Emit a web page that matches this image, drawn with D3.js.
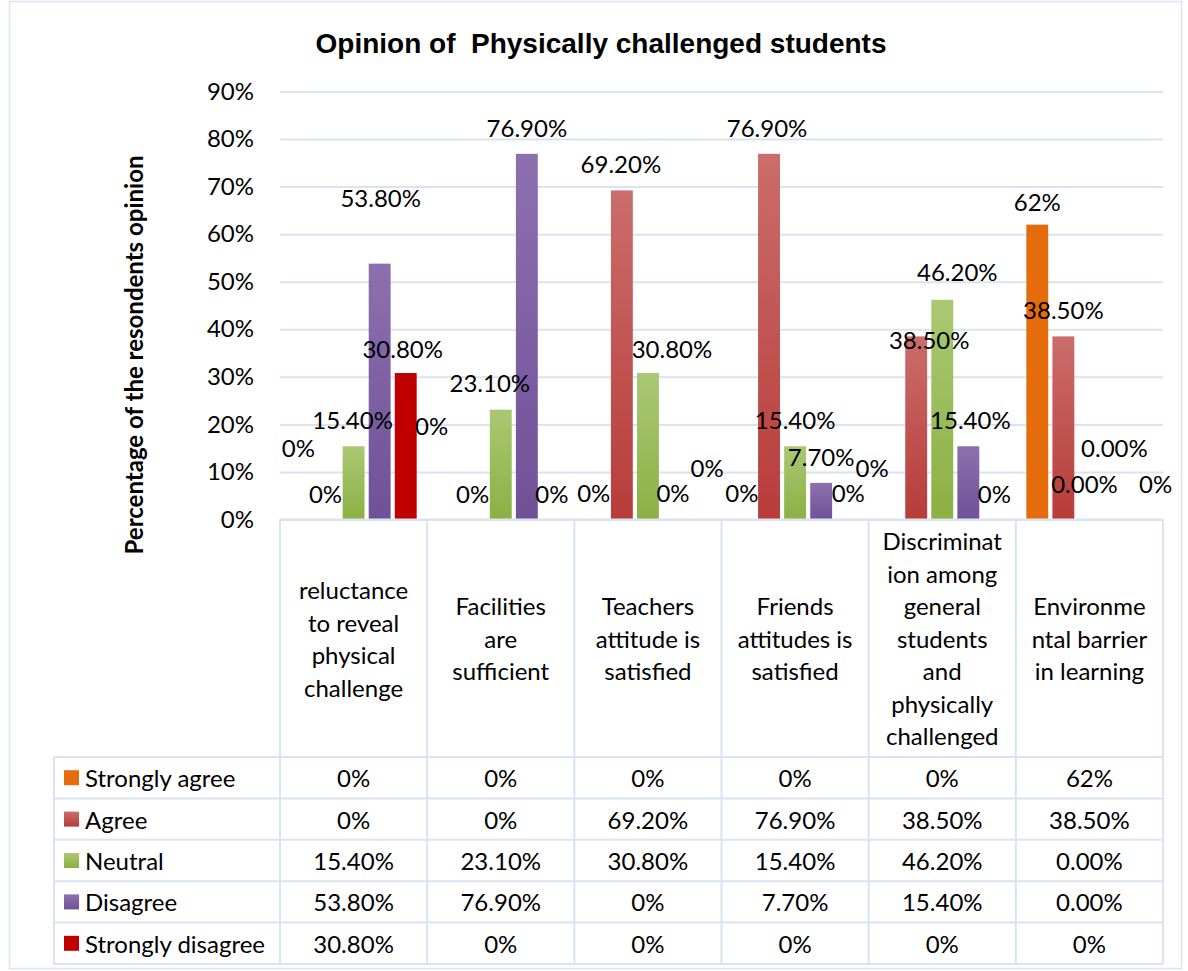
<!DOCTYPE html>
<meta charset="utf-8">
<style>
body {
    margin: 0;
    background: #fff;
}

text {
    font-family: Lato, "Open Sans", sans-serif;
    fill: #000;
}

.grid line {
    stroke: #d9e3f1;
    stroke-width: 2px;
}

.rule {
    stroke: #d9e3f1;
    stroke-width: 2px;
}
</style>
<body>
    <script src="https://cdn.jsdelivr.net/npm/d3@7"></script>
    <script>
        // categories, wrapped the way the chart wraps them
        const categoryLines = [
            ["reluctance", "to reveal", "physical", "challenge"],
            ["Facilities", "are", "sufficient"],
            ["Teachers", "attitude is", "satisfied"],
            ["Friends", "attitudes is", "satisfied"],
            ["Discriminat", "ion among", "general", "students", "and", "physically", "challenged"],
            ["Environme", "ntal barrier", "in learning"]
        ];

        const seriesNames = ["Strongly agree", "Agree", "Neutral", "Disagree", "Strongly disagree"];

        // values in percent
        const stronglyAgree = [0, 0, 0, 0, 0, 62];
        const agree = [0, 0, 69.2, 76.9, 38.5, 38.5];
        const neutral = [15.4, 23.1, 30.8, 15.4, 46.2, 0];
        const disagree = [53.8, 76.9, 0, 7.7, 15.4, 0];
        const stronglyDisagree = [30.8, 0, 0, 0, 0, 0];

        // labels as printed
        const stronglyAgreeText = ["0%", "0%", "0%", "0%", "0%", "62%"];
        const agreeText = ["0%", "0%", "69.20%", "76.90%", "38.50%", "38.50%"];
        const neutralText = ["15.40%", "23.10%", "30.80%", "15.40%", "46.20%", "0.00%"];
        const disagreeText = ["53.80%", "76.90%", "0%", "7.70%", "15.40%", "0.00%"];
        const stronglyDisagreeText = ["30.80%", "0%", "0%", "0%", "0%", "0%"];

        const yTicks = [0, 10, 20, 30, 40, 50, 60, 70, 80, 90];

        const seriesValues = [stronglyAgree, agree, neutral, disagree, stronglyDisagree];
        const seriesText = [stronglyAgreeText, agreeText, neutralText, disagreeText, stronglyDisagreeText];

        // hand-moved data labels: [dx from bar centre, dy from bar top]
        const labelNudge = [
            [[-3, -72], [-17, -94], [-2, -27], [-1, -27], [-18, -52], [0, -23]],
            [[-2, -26], [-2, -26], [-1, -27], [-2, -26], [13, 3], [0, -27]],
            [[-1, -27], [-11, -27], [24, -25], [0, -27], [15, -28], [25, -72]],
            [[1, -66], [0, -26], [-1, -27], [0, -26], [2, -27], [-31, -36]],
            [[-3, -25], [-1, -26], [7, -52], [1, -27], [0, -26], [14, -36]]
        ];

        const colours = [
            ["#e46c0a", "#e46c0a"],
            ["#ca6d6b", "#b83c3a"],
            ["#aac873", "#8cb043"],
            ["#8c70ae", "#6f5197"],
            ["#c00000", "#c00000"]
        ];

        const width = 1188;
        const height = 971;
        const fontSize = "24px";

        const svg = d3.select("body").append("svg")
            .attr("width", width)
            .attr("height", height);

        const defs = svg.append("defs");
        colours.forEach(function(c, i) {
            const g = defs.append("linearGradient")
                .attr("id", "grad" + i)
                .attr("x1", 0).attr("y1", 0)
                .attr("x2", 0).attr("y2", 1);
            g.append("stop").attr("offset", "0%").attr("stop-color", c[0]);
            g.append("stop").attr("offset", "100%").attr("stop-color", c[1]);
        });

        // chart area border
        svg.append("rect")
            .attr("x", 9.5).attr("y", 1.5)
            .attr("width", 1172).attr("height", 967)
            .attr("fill", "none")
            .attr("stroke", "#d9e3f1")
            .attr("stroke-width", 1.5);

        const catIdx = d3.range(categoryLines.length);

        const x0 = d3.scaleBand()
            .domain(catIdx)
            .range([280, 1163]);

        const x1 = d3.scaleBand()
            .domain(d3.range(seriesNames.length))
            .range([10.5, 136.7])
            .paddingInner(0.16);

        const y = d3.scaleLinear()
            .domain([0, 90])
            .range([519.5, 91.5]);

        const rowY = d3.scaleBand()
            .domain(d3.range(seriesNames.length))
            .range([757, 964]);

        // title
        svg.append("text")
            .attr("x", 601)
            .attr("y", 53)
            .attr("text-anchor", "middle")
            .style("font-family", "'Liberation Sans', Arial, sans-serif")
            .style("font-weight", "bold")
            .style("font-size", "28px")
            .style("white-space", "pre")
            .text("Opinion of  Physically challenged students");

        // y axis title
        svg.append("text")
            .attr("transform", "translate(133,355) rotate(-90)")
            .attr("text-anchor", "middle")
            .attr("dominant-baseline", "central")
            .style("font-weight", "bold")
            .style("font-size", "24px")
            .text("Percentage of the resondents opinion");

        // gridlines
        svg.append("g")
            .attr("class", "grid")
            .attr("transform", "translate(280,0)")
            .call(d3.axisLeft(y).tickValues(yTicks).tickSize(-883).tickFormat(""))
            .call(function(g) { g.select(".domain").remove(); });

        // y tick labels
        svg.append("g")
            .attr("transform", "translate(280,0)")
            .call(d3.axisLeft(y).tickValues(yTicks).tickSize(0).tickPadding(26)
                .tickFormat(function(d) { return d + "%"; }))
            .call(function(g) {
                g.select(".domain").remove();
                g.selectAll("text")
                    .style("font-family", "Lato, sans-serif")
                    .style("font-size", fontSize);
            });

        // bars
        const groups = svg.append("g").selectAll("g")
            .data(catIdx)
            .join("g")
            .attr("transform", function(c) { return "translate(" + x0(c) + ",0)"; });

        groups.selectAll("rect")
            .data(function(c) {
                return seriesValues.map(function(vals, s) { return { s: s, c: c, v: vals[c] }; });
            })
            .join("rect")
            .attr("x", function(d) { return x1(d.s); })
            .attr("y", function(d) { return y(d.v); })
            .attr("width", x1.bandwidth())
            .attr("height", function(d) { return y(0) - y(d.v); })
            .attr("fill", function(d) { return "url(#grad" + d.s + ")"; });

        // data labels
        groups.selectAll("text")
            .data(function(c) {
                return seriesValues.map(function(vals, s) { return { s: s, c: c, v: vals[c] }; });
            })
            .join("text")
            .attr("x", function(d) { return x1(d.s) + x1.bandwidth() / 2 + labelNudge[d.s][d.c][0]; })
            .attr("y", function(d) { return y(d.v) + labelNudge[d.s][d.c][1]; })
            .attr("text-anchor", "middle")
            .attr("dominant-baseline", "central")
            .style("font-size", fontSize)
            .text(function(d) { return seriesText[d.s][d.c]; });

        // data table lines
        const rules = svg.append("g");
        rules.append("line").attr("class", "rule")
            .attr("x1", 280).attr("x2", 1163).attr("y1", y(0)).attr("y2", y(0));
        rowY.domain().concat([seriesNames.length]).forEach(function(r) {
            const yy = r < seriesNames.length ? rowY(r) : rowY.range()[1];
            rules.append("line").attr("class", "rule")
                .attr("x1", 54).attr("x2", 1163).attr("y1", yy).attr("y2", yy);
        });
        catIdx.concat([catIdx.length]).forEach(function(c) {
            const xx = c < catIdx.length ? x0(c) : x0.range()[1];
            rules.append("line").attr("class", "rule")
                .attr("x1", xx).attr("x2", xx).attr("y1", y(0)).attr("y2", 964);
        });
        rules.append("line").attr("class", "rule")
            .attr("x1", 54).attr("x2", 54).attr("y1", 757).attr("y2", 964);

        // category labels
        const catMid = (y(0) + 757) / 2;
        const lineH = 32.5;
        categoryLines.forEach(function(lines, c) {
            const t = svg.append("text")
                .attr("text-anchor", "middle")
                .style("font-size", fontSize);
            lines.forEach(function(line, i) {
                t.append("tspan")
                    .attr("x", x0(c) + x0.bandwidth() / 2)
                    .attr("y", catMid + (i - (lines.length - 1) / 2) * lineH)
                    .attr("dominant-baseline", "central")
                    .text(line);
            });
        });

        // legend column
        seriesNames.forEach(function(name, s) {
            const cy = rowY(s) + rowY.bandwidth() / 2;
            svg.append("rect")
                .attr("x", 64).attr("y", cy - 7.5)
                .attr("width", 15).attr("height", 15)
                .attr("fill", "url(#grad" + s + ")");
            svg.append("text")
                .attr("x", 85).attr("y", cy)
                .attr("dominant-baseline", "central")
                .style("font-size", fontSize)
                .text(name);
        });

        // table values
        seriesText.forEach(function(texts, s) {
            const cy = rowY(s) + rowY.bandwidth() / 2;
            svg.append("g").selectAll("text")
                .data(catIdx)
                .join("text")
                .attr("x", function(c) { return x0(c) + x0.bandwidth() / 2; })
                .attr("y", cy)
                .attr("text-anchor", "middle")
                .attr("dominant-baseline", "central")
                .style("font-size", fontSize)
                .text(function(c) { return texts[c]; });
        });
    </script>
</body>
